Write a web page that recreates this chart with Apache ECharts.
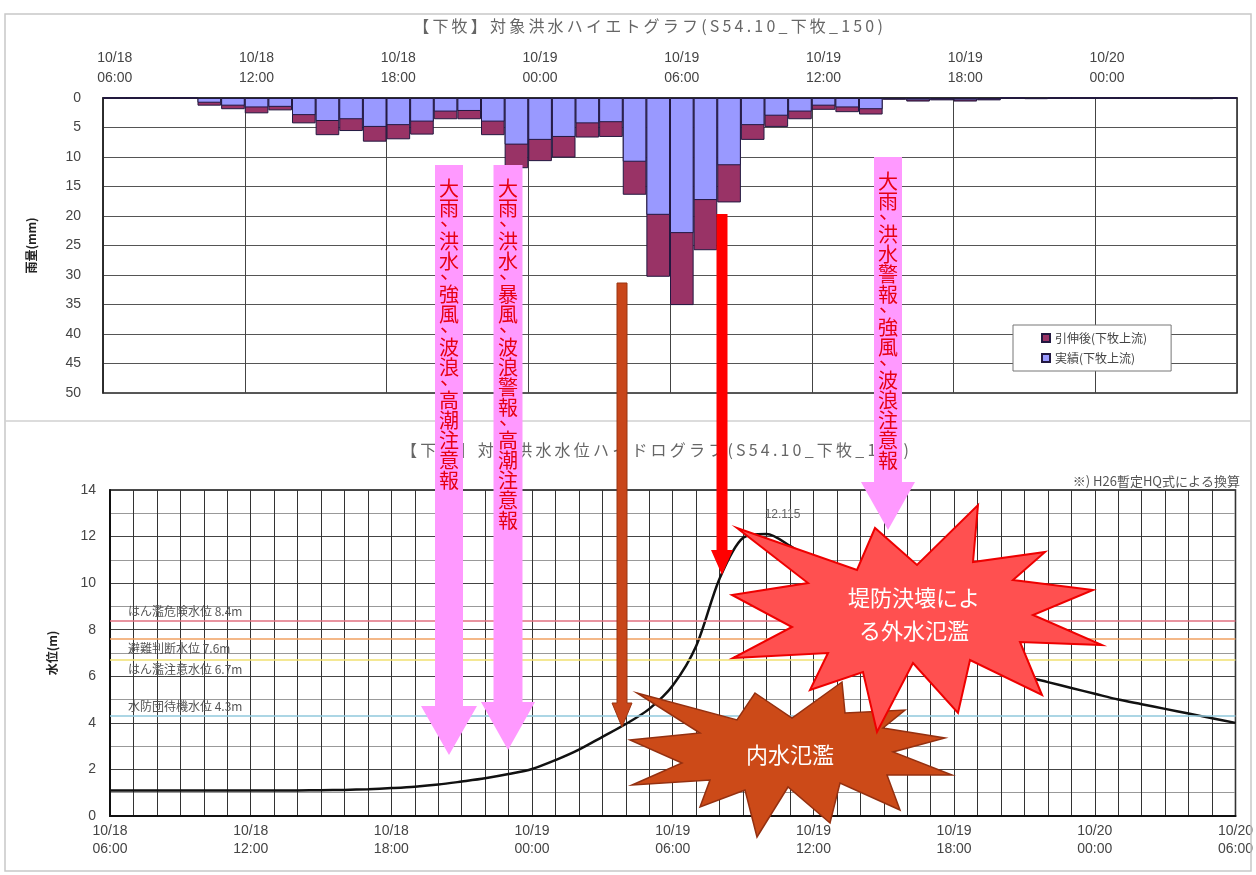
<!DOCTYPE html>
<html>
<head>
<meta charset="utf-8">
<title>下牧 ハイエトグラフ・ハイドログラフ</title>
<script src="https://cdn.jsdelivr.net/npm/echarts@6/dist/echarts.min.js"></script>
<style>
  html, body { margin: 0; padding: 0; background: #fff; }
  #chart { width: 1256px; height: 875px; }
</style>
</head>
<body>
<div id="chart"></div>
<script>
  // 時刻の目盛 (6時間ごと)
  const tickLabels = ['10/18\n06:00', '10/18\n12:00', '10/18\n18:00', '10/19\n00:00', '10/19\n06:00',
                      '10/19\n12:00', '10/19\n18:00', '10/20\n00:00', '10/20\n06:00']
  // 雨量 (1時間ごと, 10/18 06:00 から 48本)
  const rainCats = []
  for (let i = 0; i < 48; i++) rainCats.push(i)
  const rainExtended = [0, 0, 0, 0, 1.3, 1.9, 2.6, 2.1, 4.3, 6.3, 5.6, 7.4, 7.0, 6.2, 3.6, 3.6,
                        6.3, 11.9, 10.7, 10.1, 6.7, 6.6, 16.4, 30.3, 35.1, 25.8, 17.7, 7.1, 4.9, 3.6, 2.0, 2.4,
                        2.8, 0.3, 0.6, 0.4, 0.6, 0.4, 0, 0.2, 0, 0, 0, 0, 0, 0, 0.2, 0]
  const rainObserved = [0, 0, 0, 0, 0.8, 1.3, 1.6, 1.5, 2.9, 3.9, 3.6, 4.9, 4.6, 4.0, 2.3, 2.2,
                        4.0, 7.9, 7.1, 6.6, 4.3, 4.1, 10.8, 19.8, 22.9, 17.3, 11.4, 4.6, 3.0, 2.3, 1.3, 1.6,
                        1.9, 0.2, 0.4, 0.3, 0.4, 0.3, 0, 0.1, 0, 0, 0, 0, 0, 0, 0.1, 0]
  // 水位 (経過時間 h)
  const levelHours = []
  for (let h = 0; h <= 48; h++) levelHours.push(h)
  const levels = [1.10, 1.10, 1.10, 1.10, 1.10, 1.10, 1.10, 1.10, 1.10, 1.11, 1.12, 1.15, 1.20, 1.26, 1.35, 1.48,
                  1.62, 1.80, 2.02, 2.40, 2.85, 3.40, 3.95, 4.60, 5.60, 7.30, 10.20, 11.95, 12.115, 11.60, 10.90, 10.10,
                  9.30, 8.60, 8.00, 7.50, 7.05, 6.65, 6.30, 6.00, 5.75, 5.50, 5.25, 5.00, 4.80, 4.60, 4.40, 4.20, 4.00]
  // 基準水位
  const thresholdNames = ['はん濫危険水位 8.4m', '避難判断水位 7.6m', 'はん濫注意水位 6.7m', '水防団待機水位 4.3m']
  const thresholdValues = [8.4, 7.6, 6.7, 4.3]

  const chart = echarts.init(document.getElementById('chart'))
  const jp = '"Noto Sans CJK JP", sans-serif'
  const red = '#e60012'

  // 縦書きテキスト (読点は前の字の下に寄せる)
  function vtext(cx, y0, str){
    const out = []
    let y = y0
    for (const ch of str){
      if (ch === '、'){
        out.push({ type: 'text', x: cx + 1, y: y - 10, z: 110,
          style: { text: ch, fill: red, font: '20px ' + jp, textAlign: 'center', textVerticalAlign: 'middle' } })
        y += 13
      } else {
        out.push({ type: 'text', x: cx, y: y, z: 110,
          style: { text: ch, fill: red, font: '20px ' + jp, textAlign: 'center', textVerticalAlign: 'middle' } })
        y += 20
      }
    }
    return out
  }

  // 字間をあけたタイトル
  const spaced = s => Array.from(s).join('\u2009')

  function arrow(cx, top, sw, headY, tip, hw, fill, stroke){
    return { type: 'polygon', z: 100,
      shape: { points: [[cx - sw / 2, top], [cx + sw / 2, top], [cx + sw / 2, headY], [cx + hw / 2, headY],
                        [cx, tip], [cx - hw / 2, headY], [cx - sw / 2, headY]] },
      style: { fill: fill, stroke: stroke || null, lineWidth: stroke ? 1 : 0 } }
  }

  const redStar = [[978, 505], [973, 562], [1045, 552], [1013, 580], [1093, 590], [1033, 615], [1102, 645],
                   [1020, 642], [1042, 695], [970, 660], [958, 713], [913, 663], [877, 732], [863, 672],
                   [810, 690], [828, 653], [733, 658], [792, 627], [732, 595], [808, 583], [737, 528],
                   [857, 570], [875, 528], [917, 565]]
  const brownStar = [[755, 693], [792, 718], [842, 682], [845, 713], [905, 710], [883, 728], [945, 738],
                     [893, 752], [952, 775], [887, 775], [900, 810], [840, 783], [830, 823], [788, 787],
                     [757, 837], [745, 790], [700, 807], [710, 780], [632, 785], [682, 763], [630, 740],
                     [700, 733], [637, 693], [737, 720]]

  const graphics = [
    { type: 'rect', z: 1, shape: { x: 5, y: 14, width: 1246, height: 857 }, style: { fill: 'none', stroke: '#c8c8c8', lineWidth: 1.5 } },
    { type: 'line', z: 1, shape: { x1: 5, y1: 421, x2: 1251, y2: 421 }, style: { stroke: '#d0d0d0', lineWidth: 1.5 } },
    { type: 'text', x: 648, y: 26, z: 5, style: { text: spaced('【下牧】対象洪水ハイエトグラフ(S54.10_下牧_150)'), fill: '#666', font: '16px ' + jp, textAlign: 'center', textVerticalAlign: 'middle' } },
    { type: 'text', x: 655, y: 450, z: 5, style: { text: spaced('【下牧】対象洪水水位ハイドログラフ(S54.10_下牧_150)'), fill: '#666', font: '16px ' + jp, textAlign: 'center', textVerticalAlign: 'middle' } },
    { type: 'text', x: 1240, y: 481, z: 5, style: { text: '※) H26暫定HQ式による換算', fill: '#555', font: '13px ' + jp, textAlign: 'right', textVerticalAlign: 'middle' } },
    arrow(449, 165, 28, 706, 755, 56, '#ff99ff'),
    arrow(508, 165, 29, 702, 750, 54, '#ff99ff'),
    arrow(888, 157, 28, 482, 530, 54, '#ff99ff'),
    arrow(622, 283, 10, 703, 727, 20, '#c8461a', '#9a3410'),
    arrow(722, 214, 11, 550, 575, 22, '#ff0000'),
    ...vtext(449, 188, '大雨、洪水、強風、波浪、高潮注意報'),
    ...vtext(508, 188, '大雨、洪水、暴風、波浪警報、高潮注意報'),
    ...vtext(888, 181, '大雨、洪水警報、強風、波浪注意報'),
    { type: 'polygon', z: 120, shape: { points: brownStar }, style: { fill: '#cc4a18', stroke: '#943010', lineWidth: 1.5 } },
    { type: 'text', x: 790, y: 755, z: 121, style: { text: '内水氾濫', fill: '#fff', font: '22px ' + jp, textAlign: 'center', textVerticalAlign: 'middle' } },
    { type: 'polygon', z: 130, shape: { points: redStar }, style: { fill: '#ff5050', stroke: '#ee0000', lineWidth: 2 } },
    { type: 'text', x: 914, y: 614, z: 131, style: { text: '堤防決壊によ\nる外水氾濫', fill: '#fff', font: '22px ' + jp, lineHeight: 33, textAlign: 'center', textVerticalAlign: 'middle' } }
  ]

  const peakIdx = levels.indexOf(Math.max(...levels))

  const option = {
    animation: false,
    backgroundColor: '#fff',
    textStyle: { fontFamily: 'Arial, "Liberation Sans", ' + jp },
    legend: {
      left: 1013, top: 325, orient: 'vertical', selectedMode: false,
      data: ['引伸後(下牧上流)', '実績(下牧上流)'],
      icon: 'rect', itemWidth: 8, itemHeight: 8, itemGap: 8,
      padding: [7, 24, 7, 28],
      backgroundColor: '#fff', borderColor: '#777', borderWidth: 1,
      textStyle: { fontSize: 12, color: '#444', fontFamily: jp }
    },
    grid: [
      { left: 103, top: 98, width: 1134, height: 295, show: true, borderColor: '#222', borderWidth: 1.5 },
      { left: 110, top: 490, width: 1127, height: 326, show: true, borderColor: '#111', borderWidth: 1.5 }
    ],
    xAxis: [
      {
        type: 'category', gridIndex: 0, position: 'top', data: rainCats, boundaryGap: true,
        axisLine: { show: true, lineStyle: { color: '#222', width: 1.5 } },
        axisTick: { show: false },
        axisLabel: { interval: 5, color: '#444', fontSize: 14, lineHeight: 20, margin: 10,
          formatter: (v, i) => tickLabels[i / 6] },
        splitLine: { show: true, interval: 5, lineStyle: { color: '#444', width: 1 } }
      },
      {
        type: 'value', gridIndex: 1, min: 0, max: 48, interval: 1,
        axisLine: { show: true, onZero: false, lineStyle: { color: '#111', width: 2 } },
        axisTick: { show: false },
        axisLabel: { color: '#444', fontSize: 14, lineHeight: 18, margin: 6,
          formatter: v => (v % 6 === 0 ? tickLabels[v / 6] : '') },
        splitLine: { show: true, lineStyle: { color: '#333', width: 1 } }
      }
    ],
    yAxis: [
      {
        type: 'value', gridIndex: 0, inverse: true, min: 0, max: 50, interval: 5,
        name: '雨量(mm)', nameLocation: 'middle', nameRotate: 90, nameGap: 66,
        nameTextStyle: { fontSize: 12, fontWeight: 'bold', color: '#222', fontFamily: jp },
        axisLine: { show: true, lineStyle: { color: '#222', width: 1.5 } },
        axisTick: { show: false },
        axisLabel: { color: '#444', fontSize: 14, margin: 22 },
        splitLine: { show: true, lineStyle: { color: '#555', width: 1 } }
      },
      {
        type: 'value', gridIndex: 1, min: 0, max: 14, interval: 2,
        name: '水位(m)', nameLocation: 'middle', nameRotate: 90, nameGap: 52,
        nameTextStyle: { fontSize: 12, fontWeight: 'bold', color: '#222', fontFamily: jp },
        axisLine: { show: true, lineStyle: { color: '#111', width: 2 } },
        axisTick: { show: false },
        axisLabel: { color: '#444', fontSize: 14, margin: 14 },
        minorTick: { show: false, splitNumber: 2 },
        splitLine: { show: true, lineStyle: { color: '#444', width: 1 } },
        minorSplitLine: { show: true, lineStyle: { color: '#999', width: 1 } }
      }
    ],
    series: [
      {
        name: '引伸後(下牧上流)', type: 'bar', xAxisIndex: 0, yAxisIndex: 0,
        data: rainExtended, barCategoryGap: '0%',
        itemStyle: { color: '#993366', borderColor: '#221840', borderWidth: 1 }
      },
      {
        name: '実績(下牧上流)', type: 'bar', xAxisIndex: 0, yAxisIndex: 0,
        data: rainObserved, barCategoryGap: '0%', barGap: '-100%',
        itemStyle: { color: '#9999ff', borderColor: '#221840', borderWidth: 1 }
      },
      {
        name: '水位', type: 'line', xAxisIndex: 1, yAxisIndex: 1,
        data: levelHours.map((h, i) => [h, levels[i]]),
        showSymbol: false, smooth: 0.3,
        lineStyle: { color: '#111', width: 2.5 },
        markLine: {
          silent: true, symbol: 'none',
          data: thresholdValues.map((v, i) => ({
            yAxis: v,
            lineStyle: { color: ['#e07080', '#f0a060', '#f0e070', '#90c8dc'][i], width: 1.5, type: 'solid' },
            label: { show: true, formatter: thresholdNames[i],
              position: (i === 1 || i === 2) ? 'insideStartBottom' : 'insideStartTop',
              distance: [18, 3], color: '#555', fontSize: 12, fontFamily: jp }
          }))
        },
        markPoint: {
          silent: true, symbol: 'circle', symbolSize: 0,
          data: [{ coord: [levelHours[peakIdx], levels[peakIdx]], value: levels[peakIdx] }],
          label: { show: true, position: 'top', offset: [16, -8], color: '#666', fontSize: 12,
            formatter: p => String(p.value) }
        }
      }
    ],
    graphic: graphics
  }

  chart.setOption(option)
</script>
</body>
</html>
